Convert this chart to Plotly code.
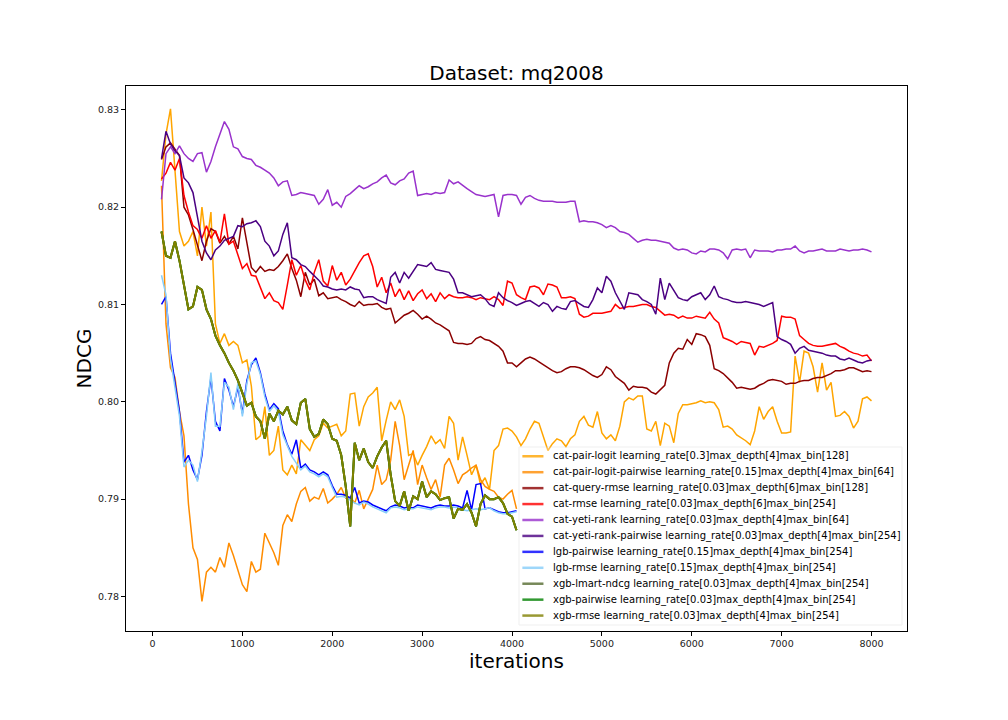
import plotly.graph_objects as go

# evaluation points (every 50 iterations)
iters_full = list(range(100, 8001, 50))
iters_short = list(range(100, 4051, 50))

cat_pair_logit = [
    0.8227, 0.8275, 0.8301, 0.8240, 0.8175, 0.8160, 0.8165, 0.8175, 0.8150, 0.8200,
    0.8160, 0.8195, 0.8080, 0.8060, 0.8070, 0.8058, 0.8062, 0.8058, 0.8040, 0.8043,
    0.8016, 0.7961, 0.7965, 0.7995, 0.7945, 0.7950, 0.7975, 0.7930, 0.7925, 0.7935,
    0.7926, 0.7961, 0.7956, 0.7950, 0.7961, 0.7965, 0.7978, 0.7973, 0.7975, 0.7977,
    0.7965, 0.7970, 0.8008, 0.8009, 0.7975, 0.7995, 0.8005, 0.8009, 0.8015, 0.7960,
    0.7981, 0.8000, 0.7992, 0.8002, 0.7985, 0.7945, 0.7947, 0.7935, 0.7945, 0.7954,
    0.7965, 0.7957, 0.7961, 0.7952, 0.7985, 0.7978, 0.7940, 0.7964, 0.7945, 0.7925,
    0.7935, 0.7915, 0.7922, 0.7910, 0.7950, 0.7955, 0.7972, 0.7973, 0.7970, 0.7964,
    0.7955, 0.7962, 0.7972, 0.7980, 0.7978, 0.7963, 0.7950, 0.7957, 0.7962, 0.7960,
    0.7954, 0.7962, 0.7966, 0.7980, 0.7985, 0.7976, 0.7974, 0.7990, 0.7968, 0.7962,
    0.7966, 0.7960, 0.7975, 0.8000, 0.8004, 0.8002, 0.8006, 0.8006, 0.7972, 0.7970,
    0.7980, 0.7955, 0.7978, 0.7975, 0.7958, 0.7988, 0.7997, 0.7997, 0.7998, 0.7999,
    0.8001, 0.7999, 0.8000, 0.7999, 0.7992, 0.7974, 0.7975, 0.7972, 0.7966, 0.7963,
    0.7960, 0.7956, 0.7970, 0.7995, 0.7982, 0.7990, 0.7995, 0.7980, 0.7968, 0.7968,
    0.7969, 0.8047, 0.8020, 0.8052, 0.8050, 0.8036, 0.8010, 0.8040, 0.8012, 0.8020,
    0.7985, 0.7986, 0.7990, 0.7985, 0.7973, 0.7980, 0.8003, 0.8005, 0.8001,
]

cat_pair_logit_pairwise = [
    0.8222, 0.8080, 0.8035, 0.8025, 0.7990, 0.7965, 0.7895, 0.7850, 0.7838, 0.7795,
    0.7825, 0.7830, 0.7825, 0.7840, 0.7830, 0.7855, 0.7842, 0.7826, 0.7812, 0.7805,
    0.7836, 0.7825, 0.7828, 0.7865, 0.7855, 0.7845, 0.7832, 0.7873, 0.7884, 0.7877,
    0.7895, 0.7908, 0.7912, 0.7898, 0.7902, 0.7900, 0.7911, 0.7896, 0.7900, 0.7905,
    0.7912, 0.7901, 0.7902, 0.7896, 0.7909, 0.7890, 0.7900, 0.7910, 0.7935, 0.7915,
    0.7920, 0.7940, 0.7980, 0.7955, 0.7920, 0.7935, 0.7950, 0.7915, 0.7935, 0.7922,
    0.7910, 0.7920, 0.7902, 0.7935, 0.7942, 0.7930, 0.7916, 0.7925, 0.7928, 0.7932,
    0.7935, 0.7920, 0.7913, 0.7910, 0.7908, 0.7902, 0.7900, 0.7905, 0.7909, 0.7890,
]

cat_query_rmse = [
    0.8249, 0.8262, 0.8266, 0.8259, 0.8253, 0.8200, 0.8192, 0.8177, 0.8160, 0.8145,
    0.8165, 0.8178, 0.8175, 0.8163, 0.8170, 0.8162, 0.8170, 0.8157, 0.8189, 0.8162,
    0.8138, 0.8133, 0.8139, 0.8134, 0.8136, 0.8135, 0.8139, 0.8145, 0.8152, 0.8137,
    0.8125, 0.8108, 0.8133, 0.8120, 0.8126, 0.8109, 0.8112, 0.8106, 0.8107, 0.8108,
    0.8105, 0.8103, 0.8100, 0.8098, 0.8103, 0.8099, 0.8100, 0.8100, 0.8101, 0.8097,
    0.8095, 0.8096, 0.8081, 0.8085, 0.8089, 0.8091, 0.8094, 0.8090, 0.8085, 0.8088,
    0.8085, 0.8081, 0.8079, 0.8076, 0.8073, 0.8061, 0.8060, 0.8060, 0.8059, 0.8060,
    0.8065, 0.8067, 0.8064, 0.8063, 0.8060, 0.8057, 0.8052, 0.8040, 0.8040, 0.8036,
    0.8040, 0.8044, 0.8046, 0.8044, 0.8041, 0.8038, 0.8035, 0.8032, 0.8030, 0.8031,
    0.8034, 0.8036, 0.8036, 0.8035, 0.8033, 0.8030, 0.8027, 0.8025, 0.8028, 0.8036,
    0.8033, 0.8026, 0.8022, 0.8019, 0.8012, 0.8016, 0.8015, 0.8015, 0.8014, 0.8010,
    0.8008, 0.8013, 0.8017, 0.8040, 0.8050, 0.8055, 0.8054, 0.8064, 0.8059, 0.8070,
    0.8069, 0.8067, 0.8058, 0.8034, 0.8032, 0.8029, 0.8025, 0.8020, 0.8014, 0.8015,
    0.8014, 0.8013, 0.8014, 0.8017, 0.8019, 0.8022, 0.8023, 0.8022, 0.8021, 0.8018,
    0.8019, 0.8019, 0.8021, 0.8022, 0.8022, 0.8024, 0.8025, 0.8025, 0.8027, 0.8029,
    0.8032, 0.8032, 0.8033, 0.8035, 0.8035, 0.8033, 0.8031, 0.8032, 0.8031,
]

cat_rmse = [
    0.8229, 0.8235, 0.8246, 0.8238, 0.8250, 0.8212, 0.8195, 0.8181, 0.8177, 0.8168,
    0.8181, 0.8168, 0.8176, 0.8164, 0.8193, 0.8162, 0.8165, 0.8152, 0.8137, 0.8142,
    0.8130, 0.8129, 0.8117, 0.8106, 0.8112, 0.8104, 0.8102, 0.8095, 0.8120, 0.8146,
    0.8130, 0.8140, 0.8125, 0.8115, 0.8133, 0.8146, 0.8124, 0.8119, 0.8140, 0.8125,
    0.8133, 0.8120, 0.8126, 0.8135, 0.8143, 0.8150, 0.8152, 0.8139, 0.8118, 0.8128,
    0.8112, 0.8122, 0.8108, 0.8116, 0.8105, 0.8114, 0.8104, 0.8111, 0.8115, 0.8106,
    0.8111, 0.8103, 0.8112, 0.8106, 0.8110, 0.8108, 0.8107, 0.8107, 0.8108, 0.8107,
    0.8105, 0.8107, 0.8106, 0.8105, 0.8108, 0.8105, 0.8099, 0.8124, 0.8122, 0.8110,
    0.8107, 0.8105, 0.8118, 0.8119, 0.8117, 0.8110, 0.8121, 0.8120, 0.8118, 0.8107,
    0.8107, 0.8108, 0.8106, 0.8090, 0.8087, 0.8088, 0.8091, 0.8091, 0.8091, 0.8092,
    0.8093, 0.8100, 0.8096, 0.8097, 0.8098, 0.8098, 0.8099, 0.8100, 0.8100, 0.8098,
    0.8097, 0.8093, 0.8089, 0.8090, 0.8089, 0.8086, 0.8088, 0.8086, 0.8086, 0.8088,
    0.8087, 0.8086, 0.8092, 0.8085, 0.8081, 0.8066, 0.8064, 0.8062, 0.8059, 0.8062,
    0.8061, 0.8060, 0.8048, 0.8057, 0.8056, 0.8058, 0.8060, 0.8063, 0.8088, 0.8087,
    0.8087, 0.8085, 0.8068, 0.8064, 0.8060, 0.8058, 0.8057, 0.8057, 0.8058, 0.8059,
    0.8060, 0.8057, 0.8055, 0.8052, 0.8050, 0.8049, 0.8047, 0.8048, 0.8042,
]

cat_yeti_rank = [
    0.8208, 0.8255, 0.8262, 0.8255, 0.8263, 0.8255, 0.8250, 0.8247, 0.8255, 0.8256,
    0.8236, 0.8247, 0.8262, 0.8276, 0.8288, 0.8280, 0.8262, 0.8260, 0.8252, 0.8250,
    0.8249, 0.8243, 0.8241, 0.8238, 0.8235, 0.8230, 0.8222, 0.8226, 0.8227, 0.8212,
    0.8213, 0.8215, 0.8214, 0.8213, 0.8212, 0.8203, 0.8208, 0.8218, 0.8202, 0.8205,
    0.8200, 0.8211, 0.8214, 0.8218, 0.8222, 0.8219, 0.8221, 0.8224, 0.8226, 0.8230,
    0.8233, 0.8225, 0.8223, 0.8227, 0.8229, 0.8235, 0.8237, 0.8212, 0.8213, 0.8214,
    0.8213, 0.8215, 0.8214, 0.8215, 0.8228, 0.8224, 0.8226, 0.8222, 0.8219, 0.8216,
    0.8213, 0.8212, 0.8211, 0.8212, 0.8213, 0.8190, 0.8212, 0.8213, 0.8213, 0.8212,
    0.8203, 0.8210, 0.8212, 0.8209, 0.8207, 0.8206, 0.8206, 0.8206, 0.8205, 0.8205,
    0.8205, 0.8206, 0.8206, 0.8185, 0.8186, 0.8185, 0.8185, 0.8184, 0.8182, 0.8179,
    0.8181, 0.8179, 0.8175, 0.8174, 0.8172, 0.8168, 0.8164, 0.8166, 0.8167, 0.8166,
    0.8166, 0.8165, 0.8164, 0.8163, 0.8158, 0.8156, 0.8157, 0.8156, 0.8153, 0.8152,
    0.8155, 0.8154, 0.8157, 0.8157, 0.8156, 0.8153, 0.8147, 0.8156, 0.8157, 0.8156,
    0.8157, 0.8148, 0.8156, 0.8155, 0.8155, 0.8155, 0.8154, 0.8156, 0.8156, 0.8157,
    0.8157, 0.8160, 0.8155, 0.8153, 0.8155, 0.8155, 0.8156, 0.8157, 0.8155, 0.8155,
    0.8155, 0.8157, 0.8156, 0.8155, 0.8156, 0.8156, 0.8157, 0.8156, 0.8154,
]

cat_yeti_rank_pairwise = [
    0.8250, 0.8278, 0.8265, 0.8258, 0.8253, 0.8230, 0.8225, 0.8215, 0.8190, 0.8165,
    0.8153, 0.8146, 0.8156, 0.8160, 0.8166, 0.8168, 0.8170, 0.8181, 0.8180, 0.8183,
    0.8184, 0.8186, 0.8180, 0.8165, 0.8160, 0.8150, 0.8155, 0.8172, 0.8184, 0.8148,
    0.8146, 0.8141, 0.8139, 0.8134, 0.8130, 0.8125, 0.8119, 0.8118, 0.8116, 0.8115,
    0.8116, 0.8115, 0.8118, 0.8116, 0.8115, 0.8107, 0.8108, 0.8108, 0.8105, 0.8103,
    0.8101, 0.8128, 0.8133, 0.8122, 0.8133, 0.8127, 0.8134, 0.8141, 0.8140, 0.8139,
    0.8143, 0.8136, 0.8135, 0.8134, 0.8133, 0.8126, 0.8112, 0.8112, 0.8110, 0.8108,
    0.8109, 0.8110, 0.8106, 0.8100, 0.8098, 0.8112, 0.8107, 0.8104, 0.8102, 0.8099,
    0.8101, 0.8103, 0.8104, 0.8101, 0.8098, 0.8102, 0.8100, 0.8093, 0.8098, 0.8096,
    0.8095, 0.8103, 0.8104, 0.8101, 0.8098, 0.8097, 0.8105, 0.8117, 0.8112, 0.8129,
    0.8124, 0.8112, 0.8103, 0.8095, 0.8112, 0.8111, 0.8110, 0.8105, 0.8103, 0.8100,
    0.8090, 0.8127, 0.8105, 0.8122, 0.8115, 0.8107, 0.8105, 0.8104, 0.8108, 0.8110,
    0.8112, 0.8105, 0.8110, 0.8119, 0.8108, 0.8106, 0.8105, 0.8103, 0.8102, 0.8102,
    0.8103, 0.8102, 0.8101, 0.8100, 0.8098, 0.8100, 0.8102, 0.8067, 0.8064, 0.8062,
    0.8059, 0.8050, 0.8055, 0.8057, 0.8053, 0.8052, 0.8051, 0.8050, 0.8048, 0.8047,
    0.8047, 0.8044, 0.8043, 0.8045, 0.8043, 0.8041, 0.8040, 0.8042, 0.8043,
]

lgb_pairwise = [
    0.8100, 0.8108, 0.8050, 0.8020, 0.7990, 0.7938, 0.7945, 0.7930, 0.7920, 0.7945,
    0.7990, 0.8025, 0.7980, 0.7970, 0.8024, 0.8012, 0.7995, 0.8015, 0.7988, 0.8022,
    0.8038, 0.8045, 0.8030, 0.8008, 0.7992, 0.7998, 0.7993, 0.7970, 0.7956, 0.7946,
    0.7961, 0.7932, 0.7936, 0.7930, 0.7928, 0.7925, 0.7928, 0.7925, 0.7914, 0.7905,
    0.7905, 0.7904, 0.7901, 0.7912, 0.7896, 0.7898, 0.7897, 0.7894, 0.7892, 0.7890,
    0.7888, 0.7892, 0.7894, 0.7893, 0.7891, 0.7892, 0.7891, 0.7894, 0.7893, 0.7892,
    0.7891, 0.7893, 0.7894, 0.7893, 0.7893, 0.7894, 0.7893, 0.7891, 0.7909, 0.7889,
    0.7915, 0.7916, 0.7890, 0.7891, 0.7889, 0.7887, 0.7886, 0.7886, 0.7887, 0.7888,
]

lgb_rmse = [
    0.8130, 0.8110, 0.8044, 0.8016, 0.7985, 0.7933, 0.7940, 0.7935, 0.7918, 0.7949,
    0.7985, 0.8030, 0.7975, 0.7975, 0.8020, 0.8015, 0.7992, 0.8019, 0.7985, 0.8019,
    0.8040, 0.8042, 0.8028, 0.8005, 0.7990, 0.7996, 0.7990, 0.7966, 0.7954, 0.7944,
    0.7937, 0.7930, 0.7934, 0.7928, 0.7926, 0.7923, 0.7926, 0.7923, 0.7912, 0.7902,
    0.7903, 0.7902, 0.7899, 0.7896, 0.7894, 0.7897, 0.7895, 0.7892, 0.7890, 0.7888,
    0.7886, 0.7891, 0.7892, 0.7891, 0.7889, 0.7890, 0.7890, 0.7892, 0.7891, 0.7890,
    0.7889, 0.7891, 0.7892, 0.7892, 0.7891, 0.7892, 0.7891, 0.7889, 0.7888, 0.7889,
    0.7890, 0.7889, 0.7890, 0.7891, 0.7888, 0.7886, 0.7885, 0.7885, 0.7886, 0.7887,
]

# the three xgb runs overlap on the reference plot
xgb_ndcg = [
    0.8175, 0.8150, 0.8148, 0.8165, 0.8145, 0.8118, 0.8095, 0.8098, 0.8118, 0.8115,
    0.8095, 0.8085, 0.8068, 0.8058, 0.8050, 0.8040, 0.8032, 0.8022, 0.8010, 0.7996,
    0.7999, 0.7985, 0.7980, 0.7962, 0.7988, 0.7980, 0.7991, 0.7987, 0.7995, 0.7981,
    0.7977, 0.7999, 0.8003, 0.7972, 0.7964, 0.7967, 0.7982, 0.7977, 0.7962, 0.7960,
    0.7945, 0.7913, 0.7872, 0.7958, 0.7940, 0.7952, 0.7938, 0.7932, 0.7944, 0.7953,
    0.7960, 0.7925, 0.7898, 0.7893, 0.7908, 0.7888, 0.7903, 0.7900, 0.7918, 0.7902,
    0.7908, 0.7905, 0.7899, 0.7901, 0.7902, 0.7880, 0.7890, 0.7889, 0.7895, 0.7886,
    0.7872, 0.7895, 0.7904, 0.7900, 0.7900, 0.7902, 0.7896, 0.7885, 0.7882, 0.7868,
]

series = [
    ("cat-pair-logit learning_rate[0.3]max_depth[4]max_bin[128]", "#FFA500", iters_full, cat_pair_logit),
    ("cat-pair-logit-pairwise learning_rate[0.15]max_depth[4]max_bin[64]", "#FF8C00", iters_short, cat_pair_logit_pairwise),
    ("cat-query-rmse learning_rate[0.03]max_depth[6]max_bin[128]", "#8B0000", iters_full, cat_query_rmse),
    ("cat-rmse learning_rate[0.03]max_depth[6]max_bin[254]", "#FF0000", iters_full, cat_rmse),
    ("cat-yeti-rank learning_rate[0.03]max_depth[4]max_bin[64]", "#9932CC", iters_full, cat_yeti_rank),
    ("cat-yeti-rank-pairwise learning_rate[0.03]max_depth[4]max_bin[254]", "#4B0082", iters_full, cat_yeti_rank_pairwise),
    ("lgb-pairwise learning_rate[0.15]max_depth[4]max_bin[254]", "#0000FF", iters_short, lgb_pairwise),
    ("lgb-rmse learning_rate[0.15]max_depth[4]max_bin[254]", "#87CEFA", iters_short, lgb_rmse),
    ("xgb-lmart-ndcg learning_rate[0.03]max_depth[4]max_bin[254]", "#556B2F", iters_short, xgb_ndcg),
    ("xgb-pairwise learning_rate[0.03]max_depth[4]max_bin[254]", "#008000", iters_short, xgb_ndcg),
    ("xgb-rmse learning_rate[0.03]max_depth[4]max_bin[254]", "#808000", iters_short, xgb_ndcg),
]

fig = go.Figure()
for name, color, x, y in series:
    fig.add_trace(go.Scatter(
        x=x, y=y, name=name, mode="lines", showlegend=False,
        line=dict(color=color, width=2 if name.startswith("xgb") else 1.5),
    ))

# matplotlib-style legend box (tighter rows than plotly's own legend allows)
shapes = [dict(type="rect", xref="paper", yref="paper", x0=0.5032, x1=0.9936,
               y0=0.011, y1=0.3376, layer="above", fillcolor="white",
               line=dict(color="#d0d0d0", width=1))]
annotations = []
row_top, row_step = 0.3206, 0.02923
for i, (name, color, _, _) in enumerate(series):
    yy = row_top - i * row_step
    shapes.append(dict(type="line", xref="paper", yref="paper", x0=0.5075, x1=0.5345,
                       y0=yy, y1=yy, layer="above", opacity=0.8,
                       line=dict(color=color, width=2.5)))
    annotations.append(dict(text=name, xref="paper", yref="paper", x=0.5442, y=yy,
                            xanchor="left", yanchor="middle", showarrow=False,
                            font=dict(size=10, color="black")))

axis_style = dict(
    showline=True, mirror=True, linecolor="black", linewidth=1,
    ticks="outside", ticklen=4, tickcolor="black",
    showgrid=False, zeroline=False,
    tickfont=dict(size=9.5, color="#222222"),
)

# page body adds an 8px offset, margins are shifted to compensate
fig.update_layout(
    width=1008,
    height=720,
    template="simple_white",
    font=dict(family="DejaVu Sans", color="black"),
    margin=dict(l=118, r=109, t=78, b=97),
    title=dict(text="Dataset: mq2008", x=0.5, xref="paper", y=1 - 65 / 720,
               yref="container", xanchor="center", yanchor="middle",
               font=dict(size=20)),
    shapes=shapes,
    annotations=annotations,
    showlegend=False,
)
fig.update_xaxes(range=[-295, 8395], tickvals=list(range(0, 8001, 1000)),
                 title=dict(text="iterations", font=dict(size=20), standoff=2),
                 **axis_style)
fig.update_yaxes(range=[0.77645, 0.83245], tickvals=[0.78, 0.79, 0.80, 0.81, 0.82, 0.83],
                 tickformat=".2f",
                 title=dict(text="NDCG", font=dict(size=20), standoff=0),
                 **axis_style)

fig.write_html("out.html")
